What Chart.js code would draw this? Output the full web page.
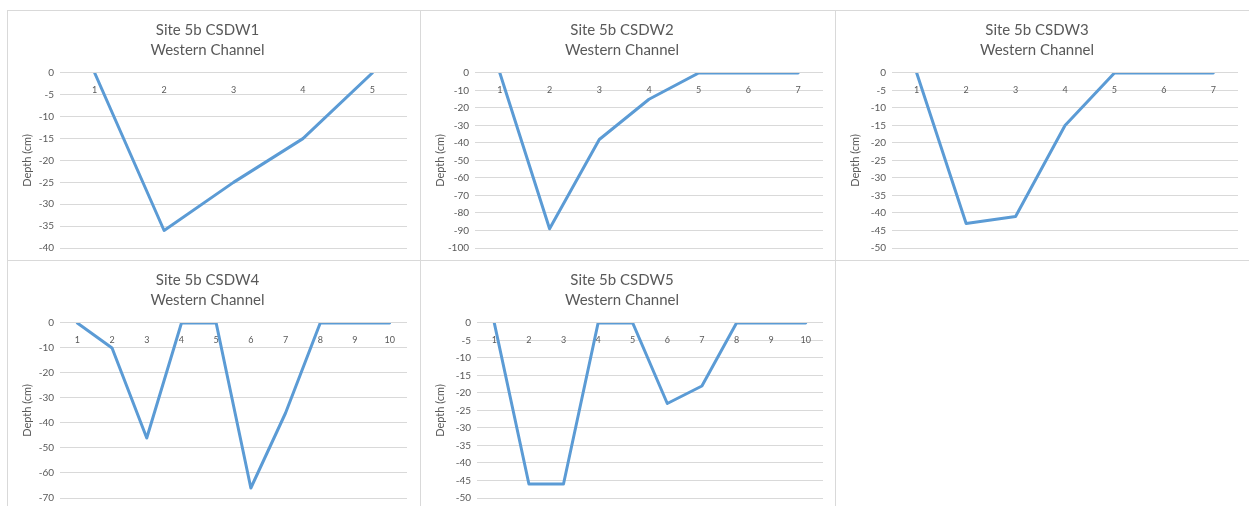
<!DOCTYPE html>
<html>
<head>
<meta charset="utf-8">
<script src="https://cdn.jsdelivr.net/npm/chart.js@4"></script>
<style>
    html, body { margin: 0; padding: 0; background: #fff; }
    body { width: 1249px; height: 506px; position: relative; overflow: hidden; }
    .panel { position: absolute; border: 1px solid #d9d9d9; background: #fff; }
    .panel canvas { display: block; }
</style>
</head>
<body>
<div class="panel" style="left:7px;top:10px;"><canvas id="c1" width="412" height="249"></canvas></div>
<div class="panel" style="left:420px;top:10px;"><canvas id="c2" width="414" height="249"></canvas></div>
<div class="panel" style="left:835px;top:10px;"><canvas id="c3" width="420" height="249"></canvas></div>
<div class="panel" style="left:7px;top:260px;"><canvas id="c4" width="412" height="249"></canvas></div>
<div class="panel" style="left:420px;top:260px;"><canvas id="c5" width="414" height="249"></canvas></div>
<script>
// station numbers across each cross-section
const stations1 = ['1', '2', '3', '4', '5'];
const stations2 = ['1', '2', '3', '4', '5', '6', '7'];
const stations3 = ['1', '2', '3', '4', '5', '6', '7'];
const stations4 = ['1', '2', '3', '4', '5', '6', '7', '8', '9', '10'];
const stations5 = ['1', '2', '3', '4', '5', '6', '7', '8', '9', '10'];

// depth readings (cm)
const depth1 = [0, -36, -25, -15, 0];
const depth2 = [0, -89, -38, -15, 0, 0, 0];
const depth3 = [0, -43, -41, -15, 0, 0, 0];
const depth4 = [0, -10, -46, 0, 0, -66, -36, 0, 0, 0];
const depth5 = [0, -46, -46, 0, 0, -23, -18, 0, 0, 0];

// y axis ranges: [min, max, step]
const range1 = [-40, 0, 5];
const range2 = [-100, 0, 10];
const range3 = [-50, 0, 5];
const range4 = [-70, 0, 10];
const range5 = [-50, 0, 5];

const titles = ['Site 5b CSDW1', 'Site 5b CSDW2', 'Site 5b CSDW3', 'Site 5b CSDW4', 'Site 5b CSDW5'];
const subtitle = 'Western Channel';

const FONT = 'Lato, "Open Sans", sans-serif';
const TEXT = '#595959';
const GRID = '#d9d9d9';
const LINE = '#5b9bd5';

function makeChart(id, title, labels, values, range, axisWidth, rightPad) {
    const ctx = document.getElementById(id).getContext('2d');
    return new Chart(ctx, {
        type: 'line',
        data: {
            labels: labels,
            datasets: [{
                data: values,
                borderColor: LINE,
                borderWidth: 3,
                pointRadius: 0,
                tension: 0,
                borderCapStyle: 'round',
                borderJoinStyle: 'round',
                fill: false
            }]
        },
        options: {
            responsive: false,
            animation: false,
            events: [],
            layout: { padding: { left: 0, right: rightPad, top: 0, bottom: 12 } },
            plugins: {
                legend: { display: false },
                tooltip: { enabled: false },
                title: {
                    display: true,
                    text: [title, subtitle],
                    color: TEXT,
                    font: { family: FONT, size: 15, weight: 'normal', lineHeight: 1.3333 },
                    padding: { top: 9, bottom: 13 }
                }
            },
            scales: {
                x: {
                    type: 'category',
                    position: { y: 0 },
                    offset: true,
                    grid: { color: 'transparent', drawTicks: true, tickLength: 9 },
                    border: { display: false },
                    ticks: { color: TEXT, font: { family: FONT, size: 9 }, maxRotation: 0, autoSkip: false }
                },
                y: {
                    min: range[0],
                    max: range[1],
                    grid: { color: GRID, drawTicks: false },
                    border: { display: false },
                    ticks: { stepSize: range[2], color: TEXT, padding: 6, font: { family: FONT, size: 10 } },
                    title: {
                        display: true,
                        text: 'Depth (cm)',
                        color: TEXT,
                        font: { family: FONT, size: 11 },
                        padding: { top: 13, bottom: 0 }
                    },
                    afterFit: scale => { scale.width = axisWidth; }
                }
            }
        }
    });
}

makeChart('c1', titles[0], stations1, depth1, range1, 52, 13);
makeChart('c2', titles[1], stations2, depth2, range2, 54, 12);
makeChart('c3', titles[2], stations3, depth3, range3, 56, 18);
makeChart('c4', titles[3], stations4, depth4, range4, 52, 13);
makeChart('c5', titles[4], stations5, depth5, range5, 56, 12);
</script>
</body>
</html>
